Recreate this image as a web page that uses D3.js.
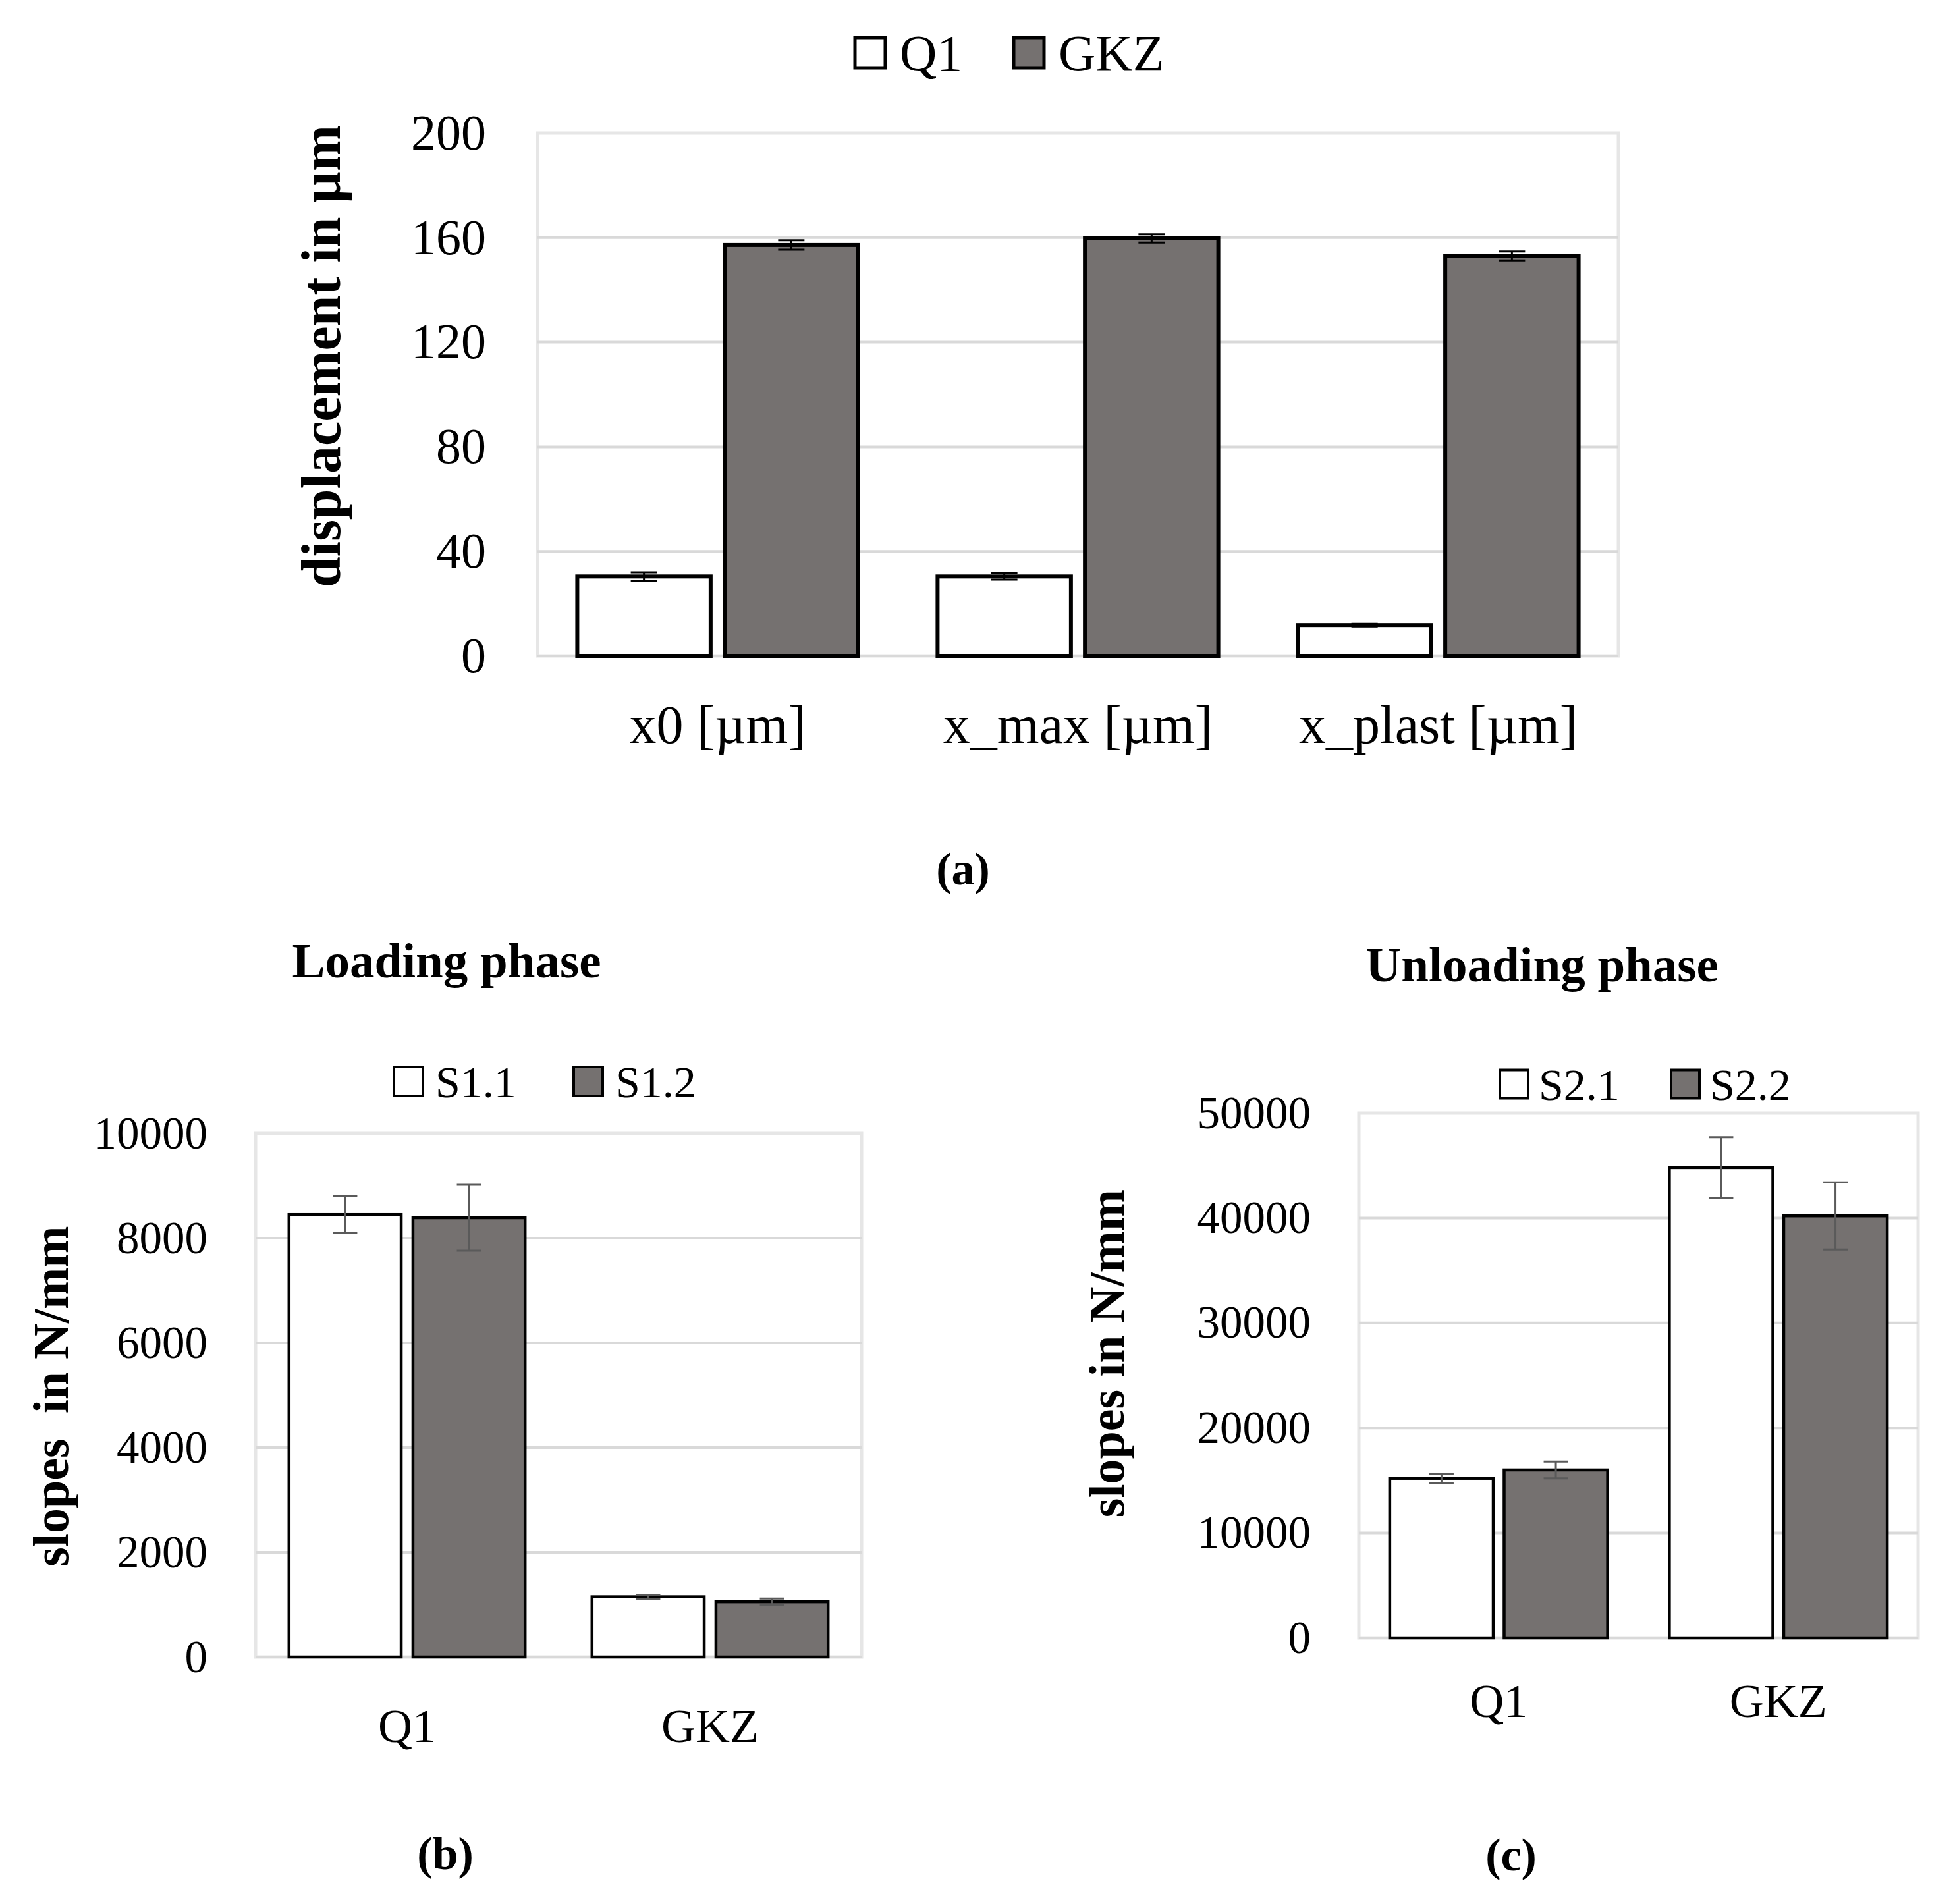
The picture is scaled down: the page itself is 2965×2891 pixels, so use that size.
<!DOCTYPE html>
<html>
<head>
<meta charset="utf-8">
<script src="https://cdn.jsdelivr.net/npm/d3@7"></script>
<style>
  body { margin: 0; background: #fff; }
  svg text { font-family: 'Palatino Linotype', 'Book Antiqua', Palatino, 'Liberation Serif', serif; fill: #000; }
</style>
</head>
<body>
<svg id="chart"></svg>
<script>
// (a) displacement
const dispCategories = ["x0 [µm]", "x_max [µm]", "x_plast [µm]"];
const dispQ1 = [30.4, 30.4, 11.8];
const dispQ1Err = [1.6, 1.2, 0.5];
const dispGKZ = [157.2, 159.7, 152.9];
const dispGKZErr = [1.8, 1.6, 1.8];
const dispTicks = [0, 40, 80, 120, 160, 200];

// (b) loading phase
const loadCategories = ["Q1", "GKZ"];
const loadS11 = [8450, 1150];
const loadS11Err = [355, 40];
const loadS12 = [8390, 1055];
const loadS12Err = [630, 60];
const loadTicks = [0, 2000, 4000, 6000, 8000, 10000];

// (c) unloading phase
const unloadCategories = ["Q1", "GKZ"];
const unloadS21 = [15200, 44800];
const unloadS21Err = [450, 2900];
const unloadS22 = [16000, 40200];
const unloadS22Err = [800, 3200];
const unloadTicks = [0, 10000, 20000, 30000, 40000, 50000];

const WHITE = "#ffffff", GREY = "#757170";

const svg = d3.select("#chart").attr("width", 2965).attr("height", 2891);

function drawPanel(p) {
  const x0 = d3.scaleBand().domain(p.categories).range([p.left, p.right]);
  const x1 = d3.scaleBand()
    .domain(p.series.map(s => s.name))
    .range([0, x0.bandwidth()])
    .paddingInner(0.095)
    .paddingOuter(0.27);
  const y = d3.scaleLinear().domain([0, d3.max(p.ticks)]).range([p.bottom, p.top]);

  const g = svg.append("g");

  // plot frame + gridlines
  g.append("rect")
    .attr("x", p.left).attr("y", p.top)
    .attr("width", p.right - p.left).attr("height", p.bottom - p.top)
    .attr("fill", "none").attr("stroke", "#e6e6e6").attr("stroke-width", 5);
  g.selectAll(".grid").data(p.ticks.slice(0, -1)).join("line")
    .attr("x1", p.left).attr("x2", p.right)
    .attr("y1", d => y(d)).attr("y2", d => y(d))
    .attr("stroke", "#d9d9d9").attr("stroke-width", 4);

  // y tick labels
  const yAxis = g.append("g")
    .attr("transform", `translate(${p.left},0)`)
    .call(d3.axisLeft(y).tickValues(p.ticks).tickFormat(d3.format("d"))
      .tickSize(0).tickPadding(p.left - p.tickRight));
  yAxis.select(".domain").remove();
  yAxis.selectAll("text").attr("font-size", p.tickFont).attr("font-family", null).style("fill", "#000");

  // x category labels
  const xAxis = g.append("g")
    .attr("transform", `translate(0,${p.bottom})`)
    .call(d3.axisBottom(x0).tickSize(0).tickPadding(p.xPad));
  xAxis.select(".domain").remove();
  xAxis.selectAll("text").attr("font-size", p.xFont).attr("font-family", null).style("fill", "#000");

  // bars + error bars
  p.series.forEach(s => {
    const sg = g.append("g");
    sg.selectAll("rect").data(p.categories).join("rect")
      .attr("x", (c) => x0(c) + x1(s.name))
      .attr("y", (c, i) => y(s.values[i]))
      .attr("width", x1.bandwidth())
      .attr("height", (c, i) => y(0) - y(s.values[i]))
      .attr("fill", s.fill)
      .attr("stroke", "#000")
      .attr("stroke-width", p.barStroke);

    const eg = sg.selectAll(".err").data(p.categories).join("g").attr("class", "err")
      .attr("stroke", p.errColor).attr("stroke-width", p.errWidth);
    const cx = c => x0(c) + x1(s.name) + x1.bandwidth() / 2;
    eg.append("line")
      .attr("x1", cx).attr("x2", cx)
      .attr("y1", (c, i) => y(s.values[i] - s.err[i]))
      .attr("y2", (c, i) => y(s.values[i] + s.err[i]));
    [-1, 1].forEach(sign => {
      eg.append("line")
        .attr("x1", c => cx(c) - p.capW / 2).attr("x2", c => cx(c) + p.capW / 2)
        .attr("y1", (c, i) => y(s.values[i] + sign * s.err[i]))
        .attr("y2", (c, i) => y(s.values[i] + sign * s.err[i]));
    });
  });

  // legend
  p.series.forEach((s, i) => {
    const lx = p.legendX[i];
    g.append("rect")
      .attr("x", lx).attr("y", p.legendY - p.legendSize / 2)
      .attr("width", p.legendSize).attr("height", p.legendSize)
      .attr("fill", s.fill).attr("stroke", "#000").attr("stroke-width", p.legendStroke);
    g.append("text")
      .attr("x", lx + p.legendTextOffset).attr("y", p.legendY)
      .attr("dy", "0.35em")
      .attr("font-size", p.legendFont)
      .text(s.name);
  });

  // y axis title
  g.append("text")
    .attr("transform", `translate(${p.yTitleX},${p.yTitleY}) rotate(-90)`)
    .attr("text-anchor", "middle")
    .attr("dy", "0.35em")
    .attr("font-weight", "bold")
    .attr("font-size", p.yTitleFont)
    .style("white-space", "pre")
    .text(p.yTitle);

  if (p.title) {
    g.append("text")
      .attr("x", p.titleX).attr("y", p.titleY)
      .attr("text-anchor", "middle")
      .attr("font-weight", "bold")
      .attr("font-size", 75)
      .text(p.title);
  }

  g.append("text")
    .attr("x", p.tagX).attr("y", p.tagY)
    .attr("text-anchor", "middle")
    .attr("font-weight", "bold")
    .attr("font-size", 70)
    .text(p.tag);
}

drawPanel({
  categories: dispCategories,
  series: [
    { name: "Q1", values: dispQ1, err: dispQ1Err, fill: WHITE },
    { name: "GKZ", values: dispGKZ, err: dispGKZErr, fill: GREY }
  ],
  ticks: dispTicks,
  left: 816, right: 2457, top: 202, bottom: 996,
  tickRight: 738, tickFont: 76,
  xPad: 74, xFont: 82,
  barStroke: 6, errColor: "#000", errWidth: 3, capW: 40,
  legendX: [1298, 1539], legendY: 80, legendSize: 46, legendStroke: 5,
  legendTextOffset: 68, legendFont: 78,
  yTitle: "displacement in µm", yTitleX: 487, yTitleY: 541, yTitleFont: 84,
  tag: "(a)", tagX: 1462, tagY: 1343
});

drawPanel({
  categories: loadCategories,
  series: [
    { name: "S1.1", values: loadS11, err: loadS11Err, fill: WHITE },
    { name: "S1.2", values: loadS12, err: loadS12Err, fill: GREY }
  ],
  ticks: loadTicks,
  left: 388, right: 1308, top: 1721, bottom: 2516,
  tickRight: 315, tickFont: 69,
  xPad: 78, xFont: 72,
  barStroke: 4.5, errColor: "#5a5a5a", errWidth: 3, capW: 37,
  legendX: [598, 871], legendY: 1642, legendSize: 44, legendStroke: 4,
  legendTextOffset: 63, legendFont: 68,
  yTitle: "slopes  in N/mm", yTitleX: 76, yTitleY: 2120, yTitleFont: 76,
  title: "Loading phase", titleX: 678, titleY: 1484,
  tag: "(b)", tagX: 676, tagY: 2838
});

drawPanel({
  categories: unloadCategories,
  series: [
    { name: "S2.1", values: unloadS21, err: unloadS21Err, fill: WHITE },
    { name: "S2.2", values: unloadS22, err: unloadS22Err, fill: GREY }
  ],
  ticks: unloadTicks,
  left: 2063, right: 2912, top: 1690, bottom: 2487,
  tickRight: 1990, tickFont: 69,
  xPad: 69, xFont: 72,
  barStroke: 4.5, errColor: "#5a5a5a", errWidth: 3, capW: 37,
  legendX: [2277, 2537], legendY: 1646, legendSize: 43, legendStroke: 4,
  legendTextOffset: 59, legendFont: 68,
  yTitle: "slopes in N/mm", yTitleX: 1679, yTitleY: 2055, yTitleFont: 76,
  title: "Unloading phase", titleX: 2341, titleY: 1490,
  tag: "(c)", tagX: 2294, tagY: 2840
});
</script>
</body>
</html>
